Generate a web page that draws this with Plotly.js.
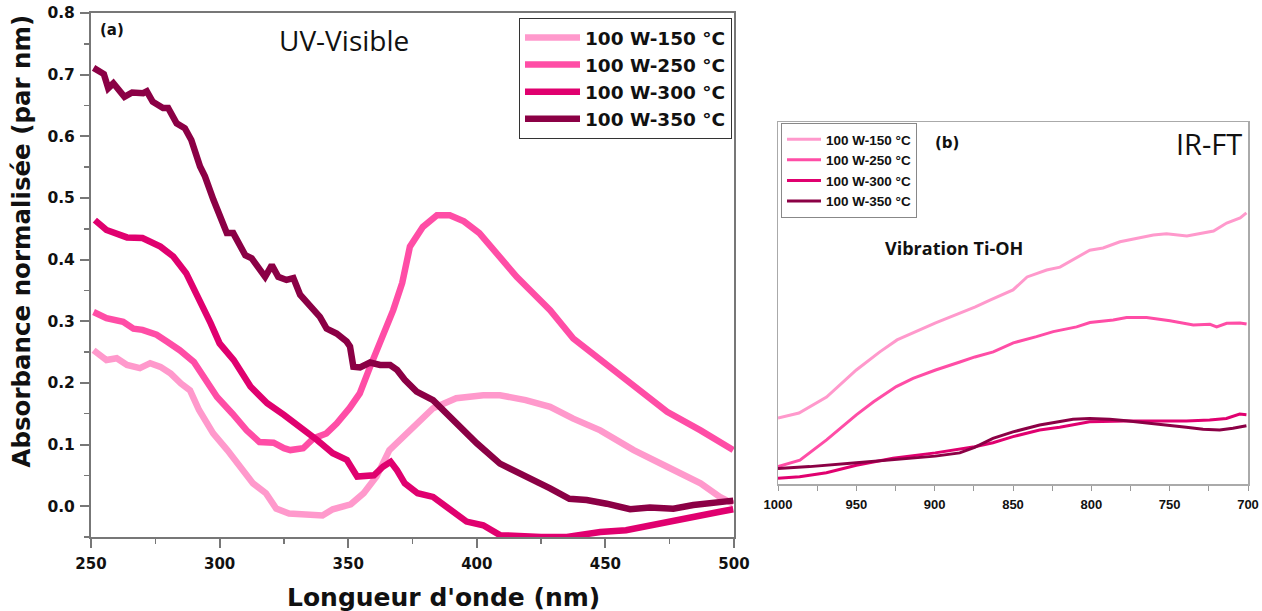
<!DOCTYPE html>
<html>
<head>
<meta charset="utf-8">
<script src="https://cdn.plot.ly/plotly-3.0.1.min.js"></script>
<style>html,body{margin:0;padding:0;background:#fff;}#chart{width:1262px;height:611px;}</style>
</head>
<body>
<div id="chart"></div>
<script>
// ---------- Series names & colours ----------
const seriesNames = ['100 W-150 °C', '100 W-250 °C', '100 W-300 °C', '100 W-350 °C'];
const seriesColors = ['#FF99CC', '#FF4DA6', '#E0006F', '#8B0045'];

// ---------- (a) UV-Visible : wavelength (nm) / normalised absorbance ----------
const uvX150 = [251,256,260,264,269,273,277,281,285,288.5,292,297.5,303,308,313,318,322,327,334,340,344,351,356,361,366,371,377,383,392,402.5,409,419,428.5,437.5,448,461,474,487,494.5,499.7];
const uvY150 = [0.253,0.237,0.240,0.229,0.224,0.232,0.226,0.215,0.199,0.188,0.156,0.118,0.091,0.064,0.037,0.021,-0.004,-0.012,-0.015,-0.015,-0.005,0.003,0.021,0.048,0.091,0.112,0.137,0.159,0.175,0.180,0.180,0.172,0.161,0.142,0.123,0.091,0.064,0.037,0.015,0.004];

const uvX250 = [251,256,262.5,266.5,270,275.5,279.5,284.5,290,293.5,299,305,310.5,315.5,321,325,327.5,332.5,336.5,341.5,345.5,350.5,354.5,358.5,363.5,367.5,371,374,379,384.5,389.5,395,401,407.5,415.5,422,428.5,437.5,448,461,474,487,499.7];
const uvY250 = [0.315,0.305,0.299,0.288,0.286,0.278,0.267,0.253,0.234,0.210,0.177,0.150,0.123,0.104,0.103,0.094,0.091,0.094,0.110,0.118,0.134,0.159,0.183,0.226,0.275,0.318,0.362,0.421,0.453,0.472,0.472,0.462,0.443,0.410,0.372,0.345,0.318,0.272,0.237,0.194,0.153,0.123,0.091];

const uvX300 = [251.5,256,264,270,277,282,287,291,292.5,296.5,300,305.5,312,318.5,325,331.5,338,344,349.5,353.5,360,363.5,366.5,369,372,377,383,396,402.5,409,415,425,435,448,458,467,476,487,494.5,499.7];
const uvY300 = [0.464,0.448,0.436,0.435,0.421,0.405,0.378,0.345,0.334,0.297,0.264,0.237,0.194,0.167,0.148,0.129,0.107,0.086,0.075,0.048,0.050,0.064,0.072,0.058,0.037,0.021,0.015,-0.025,-0.031,-0.047,-0.049,-0.050,-0.050,-0.042,-0.039,-0.031,-0.025,-0.015,-0.009,-0.005];

const uvX350 = [251,255,256.7,258.7,263,266,270.3,271.7,274,278,280,283.3,286.5,289,292.4,294.3,297.6,300.2,302.8,305.3,308,310,312.5,315,317.7,320.3,322.8,326,328.7,331.3,336.4,339,341.6,345.5,349.4,350.7,352,354.6,358.5,362.4,366.3,369,372,376.6,383,389.6,400,409,415.5,422,428.5,436,442.7,450.5,459.6,467.3,476.4,484.2,493.3,499.7];
const uvY350 = [0.711,0.701,0.678,0.686,0.664,0.671,0.670,0.673,0.656,0.646,0.646,0.621,0.613,0.594,0.551,0.535,0.497,0.467,0.443,0.443,0.421,0.407,0.402,0.388,0.372,0.391,0.372,0.367,0.370,0.343,0.318,0.307,0.288,0.280,0.267,0.259,0.226,0.225,0.233,0.229,0.229,0.221,0.205,0.186,0.172,0.145,0.102,0.069,0.056,0.042,0.029,0.012,0.010,0.004,-0.005,-0.002,-0.004,0.002,0.007,0.009];

// ---------- (b) IR-FT : wavenumber (cm-1) / absorbance (a.u.) ----------
const irX150 = [1000,986.6,969,950,935,924,899.4,874,864.7,850,841,828.5,820,801,792.5,781.7,760.4,752,739,722,713.6,705,701];
const irY150 = [18.2,19.6,24.0,31.5,36.5,39.8,44.5,48.9,50.8,53.6,57.2,59.1,59.9,64.6,65.2,66.9,68.8,69.1,68.5,69.9,72.1,73.5,74.9];

const irX250 = [1000,986,969,950,939,924.5,913.8,899.4,883.9,874.3,862.6,849.8,835,824.3,809.4,800.9,786,777.5,764.7,749.8,734.9,724.3,720,713.6,705.1,700.9];
const irY250 = [4.8,6.6,12.2,19.1,22.7,26.9,29.2,31.5,33.7,35.1,36.5,39.0,40.7,42.1,43.4,44.6,45.3,46.0,46.0,45.1,43.9,44.1,43.4,44.4,44.5,44.2];

const irX300 = [1000,986.2,969.1,950,926.6,899.6,874.5,862.8,850,833,820.2,801.1,777.7,756.4,739.4,724.5,713.8,705.3,701];
const irY300 = [1.6,2.0,3.1,5.2,7.1,8.6,10.3,11.4,13.1,14.9,15.7,17.2,17.4,17.4,17.4,17.7,18.1,19.3,19.1];

const irX350 = [1000,979.8,950,926.6,899.6,884,874.5,862.8,850,833,811.7,801.1,788.3,777.7,756.4,739.4,728.7,718.1,709.6,701];
const irY350 = [4.3,4.8,5.9,6.8,7.7,8.6,10.1,12.6,14.4,16.3,17.9,18.1,17.9,17.5,16.6,15.7,15.1,14.9,15.4,16.1];

// ---------- Axis ranges ----------
const uvXRange = [250, 500];
const uvYRange = [-0.05, 0.8];
const irXRange = [1000, 700];
const irYRange = [0, 100];

const uvXs = [uvX150, uvX250, uvX300, uvX350];
const uvYs = [uvY150, uvY250, uvY300, uvY350];
const irXs = [irX150, irX250, irX300, irX350];
const irYs = [irY150, irY250, irY300, irY350];

const traces = [];
for (let i = 0; i < 4; i++) {
  traces.push({
    x: uvXs[i], y: uvYs[i], type: 'scatter', mode: 'lines',
    name: seriesNames[i], xaxis: 'x', yaxis: 'y', legend: 'legend',
    line: {color: seriesColors[i], width: 6.5}
  });
}
for (let i = 0; i < 4; i++) {
  traces.push({
    x: irXs[i], y: irYs[i], type: 'scatter', mode: 'lines',
    name: seriesNames[i], xaxis: 'x2', yaxis: 'y2', legend: 'legend2',
    line: {color: seriesColors[i], width: 3}
  });
}

const W = 1262, H = 611;
const px = v => v / W;
const py = v => (H - v) / H;

const boldDV = {family: 'DejaVu Sans', color: '#111', weight: 'bold'};

const layout = {
  width: W, height: H,
  margin: {l: 0, r: 0, t: 0, b: 0},
  paper_bgcolor: '#fff', plot_bgcolor: '#fff',
  showlegend: true,
  xaxis: {
    domain: [px(91), px(734)], range: uvXRange, anchor: 'y',
    showline: true, linecolor: '#777', linewidth: 2, mirror: true,
    ticks: 'outside', ticklen: 9, tickwidth: 2, tickcolor: '#777',
    dtick: 50, tick0: 250, ticklabelstandoff: 3,
    minor: {dtick: 25, ticks: 'outside', ticklen: 5, tickwidth: 1.5, tickcolor: '#777'},
    showgrid: false, zeroline: false,
    tickfont: Object.assign({size: 15}, boldDV)
  },
  yaxis: {
    domain: [py(537), py(13)], range: uvYRange, anchor: 'x',
    showline: true, linecolor: '#777', linewidth: 2, mirror: true,
    ticks: 'outside', ticklen: 9, tickwidth: 2, tickcolor: '#777',
    dtick: 0.1, tick0: 0, tickformat: '.1f', ticklabelstandoff: 2,
    minor: {dtick: 0.05, ticks: 'outside', ticklen: 5, tickwidth: 1.5, tickcolor: '#777'},
    showgrid: false, zeroline: false,
    tickfont: Object.assign({size: 15.5}, boldDV)
  },
  xaxis2: {
    domain: [px(778), px(1248)], range: irXRange, anchor: 'y2',
    showline: true, linecolor: '#aaa', linewidth: 1.5, mirror: true,
    ticks: 'outside', ticklen: 5, tickwidth: 1, tickcolor: '#999',
    dtick: 50, tick0: 700, ticklabelstandoff: 3,
    minor: {dtick: 25, ticks: 'outside', ticklen: 5, tickwidth: 1, tickcolor: '#999'},
    showgrid: false, zeroline: false,
    tickfont: {family: 'Liberation Sans', size: 13, color: '#111', weight: 'bold'}
  },
  yaxis2: {
    domain: [py(484), py(122)], range: irYRange, anchor: 'x2',
    showline: true, linecolor: '#aaa', linewidth: 1.5, mirror: true,
    ticks: '', showticklabels: false, showgrid: false, zeroline: false
  },
  legend: {
    x: px(519), y: py(18), xanchor: 'left', yanchor: 'top',
    bordercolor: '#333', borderwidth: 1, bgcolor: '#fff',
    font: Object.assign({size: 18.5}, boldDV),
    itemwidth: 55, tracegroupgap: 0
  },
  legend2: {
    x: px(781), y: py(123), xanchor: 'left', yanchor: 'top',
    bordercolor: '#888', borderwidth: 1, bgcolor: '#fff',
    font: {family: 'Liberation Sans', size: 13.5, color: '#111', weight: 'bold'},
    itemwidth: 34, tracegroupgap: 0
  },
  annotations: [
    {text: 'Absorbance normalisée (par nm)', xref: 'paper', yref: 'paper', x: px(20.5), y: py(241),
     xanchor: 'center', yanchor: 'middle', textangle: -90, showarrow: false,
     font: Object.assign({size: 24.5}, boldDV)},
    {text: "Longueur d'onde (nm)", xref: 'paper', yref: 'paper', x: px(443), y: py(597),
     xanchor: 'center', yanchor: 'middle', showarrow: false,
     font: Object.assign({size: 25}, boldDV)},
    {text: '(a)', xref: 'paper', yref: 'paper', x: px(112), y: py(30), xanchor: 'center', yanchor: 'middle',
     showarrow: false, font: Object.assign({size: 15}, boldDV)},
    {text: 'UV-Visible', xref: 'paper', yref: 'paper', x: px(344), y: py(40), xanchor: 'center', yanchor: 'middle',
     showarrow: false, font: {family: 'Open Sans', size: 28, color: '#111'}},
    {text: '(b)', xref: 'paper', yref: 'paper', x: px(947), y: py(143), xanchor: 'center', yanchor: 'middle',
     showarrow: false, font: Object.assign({size: 15}, boldDV)},
    {text: 'IR-FT', xref: 'paper', yref: 'paper', x: px(1209), y: py(143), xanchor: 'center', yanchor: 'middle',
     showarrow: false, font: {family: 'Open Sans', size: 29, color: '#111'}},
    {text: 'Vibration Ti-OH', xref: 'paper', yref: 'paper', x: px(954), y: py(248), xanchor: 'center', yanchor: 'middle',
     showarrow: false, font: {family: 'Open Sans', size: 18, color: '#111', weight: 'bold'}}
  ]
};

Plotly.newPlot('chart', traces, layout, {displayModeBar: false, staticPlot: true});
</script>
</body>
</html>
